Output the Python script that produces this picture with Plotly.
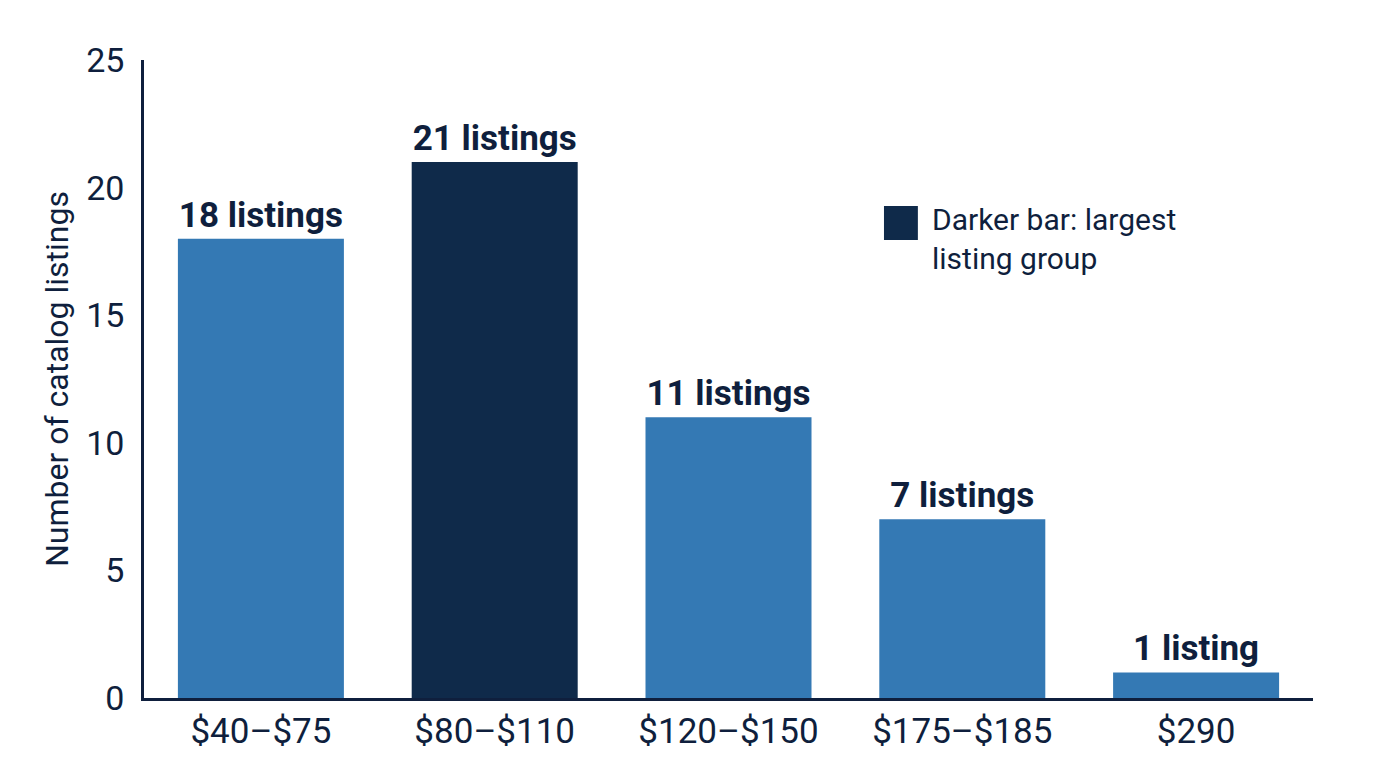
import plotly.graph_objects as go

# price bands and counts
price_bands = ["$40–$75", "$80–$110", "$120–$150", "$175–$185", "$290"]
listing_counts = [18, 21, 11, 7, 1]
bar_labels = ["18 listings", "21 listings", "11 listings", "7 listings", "1 listing"]

LIGHT = "#3479b4"
DARK = "#0f2a4a"
INK = "#0f1f3d"

largest = max(listing_counts)
colors = [DARK if v == largest else LIGHT for v in listing_counts]

fig = go.Figure()
fig.add_trace(
    go.Bar(
        x=price_bands,
        y=listing_counts,
        marker=dict(color=colors, line=dict(width=0)),
        text=bar_labels,
        textposition="outside",
        cliponaxis=False,
        textfont=dict(family="Roboto", size=35, color=INK, weight="bold"),
        hoverinfo="x+y",
        showlegend=False,
    )
)

# legend swatch + note
fig.add_shape(
    type="rect", xref="paper", yref="paper",
    x0=0.633, x1=0.662, y0=0.718, y1=0.771,
    fillcolor=DARK, line=dict(width=0),
)
fig.add_annotation(
    xref="paper", yref="paper", x=0.672, y=0.781,
    xanchor="left", yanchor="top", align="left", showarrow=False,
    text="Darker bar: largest<br>listing group",
    font=dict(family="Roboto", size=30, color=INK),
)

fig.update_layout(
    width=1376, height=768,
    margin=dict(l=136, r=71, t=52, b=78),
    paper_bgcolor="white", plot_bgcolor="white",
    bargap=0.29,
    font=dict(family="Roboto", color=INK),
)
fig.update_yaxes(
    range=[0, 25], tickvals=[0, 5, 10, 15, 20, 25],
    showgrid=False, zeroline=False,
    showline=True, linecolor=INK, linewidth=2.5,
    ticks="", ticklabelstandoff=10,
    tickfont=dict(family="Roboto", size=34, color=INK),
    title=dict(text="Number of catalog listings", standoff=9,
               font=dict(family="Roboto", size=32, color=INK)),
)
fig.update_xaxes(
    showgrid=False, showline=True, linecolor=INK, linewidth=2.5,
    ticks="", tickfont=dict(family="Roboto", size=35, color=INK),
)

fig.write_html("out.html")
